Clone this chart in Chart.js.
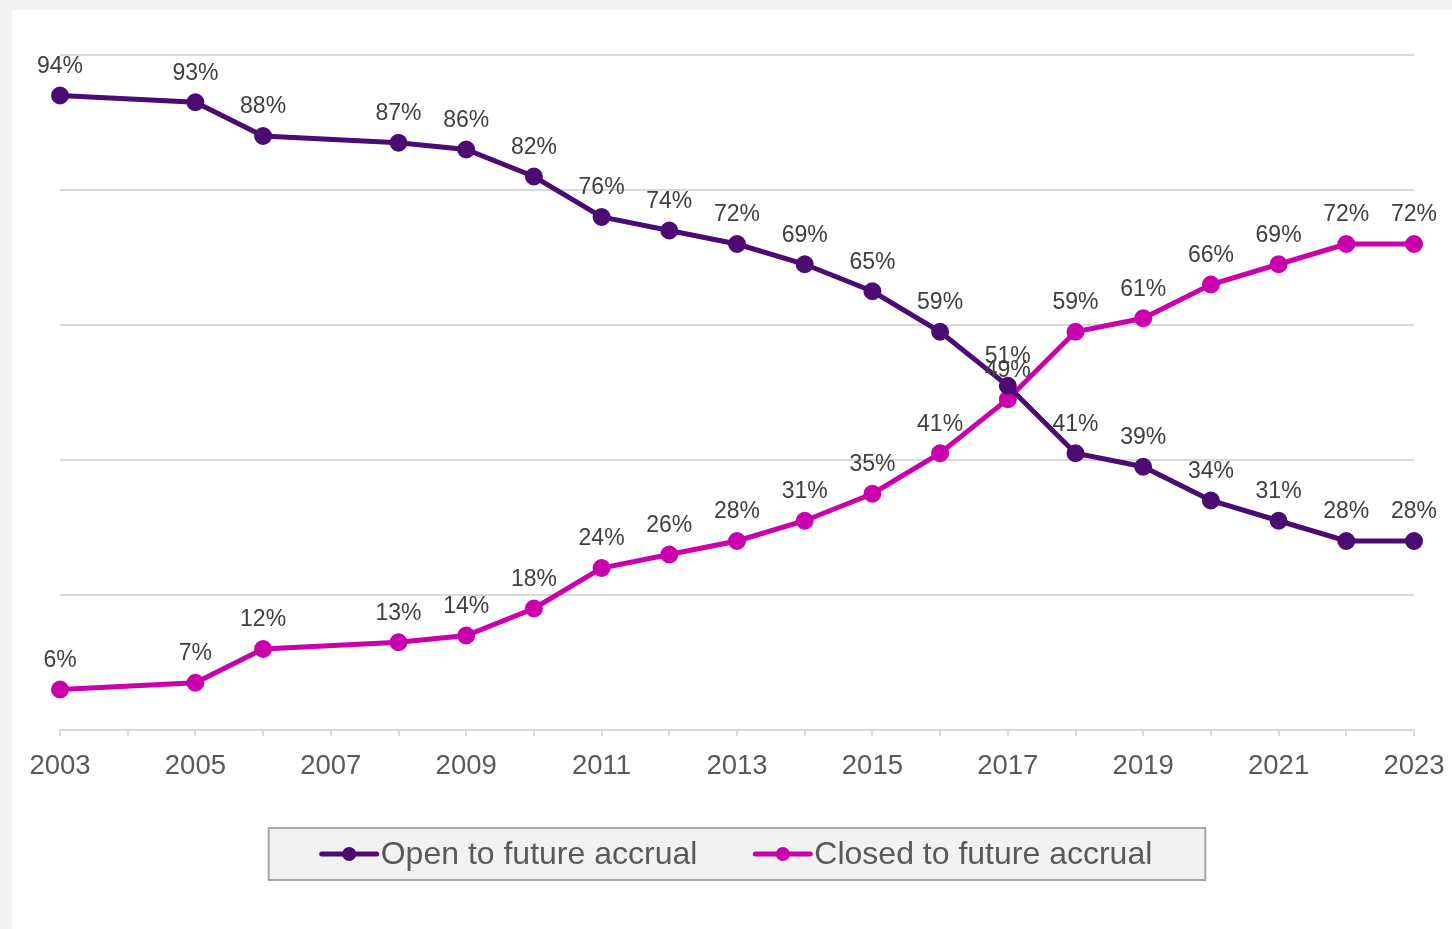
<!DOCTYPE html>
<html>
<head>
<meta charset="utf-8">
<script src="https://cdn.jsdelivr.net/npm/chart.js@4.4.0/dist/chart.umd.min.js"></script>
<style>
    html, body { margin: 0; padding: 0; background: #f2f2f2; }
    #panel { position: absolute; left: 12px; top: 10px; width: 1440px; height: 919px; background: #fff; }
</style>
</head>
<body>
<div id="panel"><canvas id="chart"></canvas></div>
<script>
// Data
const years = [2003, 2005, 2006, 2008, 2009, 2010, 2011, 2012, 2013, 2014, 2015, 2016, 2017, 2018, 2019, 2020, 2021, 2022, 2023];
const openValues = [94, 93, 88, 87, 86, 82, 76, 74, 72, 69, 65, 59, 51, 41, 39, 34, 31, 28, 28];
const closedValues = [6, 7, 12, 13, 14, 18, 24, 26, 28, 31, 35, 41, 49, 59, 61, 66, 69, 72, 72];
const seriesNames = ['Open to future accrual', 'Closed to future accrual'];
const seriesColors = ['#4b0b72', '#c900ab'];
const firstYear = 2003;
const lastYear = 2023;

const FONT = "'Liberation Sans', Arial, sans-serif";
Chart.defaults.font.family = FONT;

function toPoints(values) {
    return years.map((y, i) => ({ x: y, y: values[i] }));
}

// Value labels above each point
const valueLabels = {
    id: 'valueLabels',
    afterDatasetsDraw(chart) {
        const ctx = chart.ctx;
        ctx.save();
        ctx.font = '23px ' + FONT;
        ctx.fillStyle = '#404040';
        ctx.textAlign = 'center';
        ctx.textBaseline = 'middle';
        chart.data.datasets.forEach((ds, i) => {
            const meta = chart.getDatasetMeta(i);
            meta.data.forEach((pt, j) => {
                ctx.fillText(ds.data[j].y + '%', pt.x, pt.y - 29);
            });
        });
        ctx.restore();
    }
};

// Boxed legend with line + dot markers
const boxLegend = {
    id: 'boxLegend',
    afterDraw(chart) {
        const ctx = chart.ctx;
        const area = chart.chartArea;
        const markerW = 55, textGap = 4, itemGap = 58, padX = 53;
        ctx.save();
        ctx.font = '32px ' + FONT;
        const widths = chart.data.datasets.map(ds => markerW + textGap + ctx.measureText(ds.label).width);
        const content = widths.reduce((a, b) => a + b, 0) + itemGap * (widths.length - 1);
        const boxW = content + padX * 2;
        const boxH = 52;
        const cx = (area.left + area.right) / 2;
        const boxX = cx - boxW / 2;
        const boxY = area.bottom + 98;

        ctx.fillStyle = '#f2f2f2';
        ctx.fillRect(boxX, boxY, boxW, boxH);
        ctx.strokeStyle = '#a6a6a6';
        ctx.lineWidth = 2;
        ctx.strokeRect(boxX, boxY, boxW, boxH);

        let x = boxX + padX;
        const midY = boxY + boxH / 2;
        chart.data.datasets.forEach((ds, i) => {
            ctx.strokeStyle = ds.borderColor;
            ctx.lineWidth = 5;
            ctx.lineCap = 'round';
            ctx.beginPath();
            ctx.moveTo(x, midY);
            ctx.lineTo(x + markerW, midY);
            ctx.stroke();
            ctx.fillStyle = ds.borderColor;
            ctx.beginPath();
            ctx.arc(x + markerW / 2, midY, 7, 0, Math.PI * 2);
            ctx.fill();
            ctx.fillStyle = '#595959';
            ctx.textAlign = 'left';
            ctx.textBaseline = 'middle';
            ctx.fillText(ds.label, x + markerW + textGap, midY + 1);
            x += widths[i] + itemGap;
        });
        ctx.restore();
    }
};

new Chart(document.getElementById('chart'), {
    type: 'line',
    data: {
        datasets: [openValues, closedValues].map((vals, i) => ({
            label: seriesNames[i],
            data: toPoints(vals),
            borderColor: seriesColors[i],
            backgroundColor: seriesColors[i],
            borderWidth: 5,
            pointRadius: 6.5,
            pointHoverRadius: 6.5,
            tension: 0,
            clip: false
        }))
    },
    options: {
        responsive: true,
        maintainAspectRatio: false,
        animation: false,
        layout: { padding: { top: 45, right: 38, left: 0, bottom: 0 } },
        scales: {
            x: {
                type: 'linear',
                min: firstYear,
                max: lastYear,
                afterFit: s => { s.height = 199; s.paddingLeft = 0; s.paddingRight = 0; },
                ticks: {
                    stepSize: 1,
                    autoSkip: false,
                    maxRotation: 0,
                    color: '#595959',
                    font: { size: 27.5 },
                    padding: 14,
                    callback: v => ((v - firstYear) % 2 === 0 ? String(v) : '')
                },
                grid: { drawOnChartArea: false, drawTicks: true, tickLength: 6, color: '#d9d9d9', lineWidth: 2 },
                border: { color: '#d9d9d9', width: 2 }
            },
            y: {
                min: 0,
                max: 100,
                afterFit: s => { s.width = 48; },
                ticks: { display: false, stepSize: 20 },
                grid: { color: '#d9d9d9', lineWidth: 2, drawTicks: false },
                border: { display: false }
            }
        },
        plugins: {
            legend: { display: false },
            tooltip: { enabled: false }
        }
    },
    plugins: [valueLabels, boxLegend]
});
</script>
</body>
</html>
